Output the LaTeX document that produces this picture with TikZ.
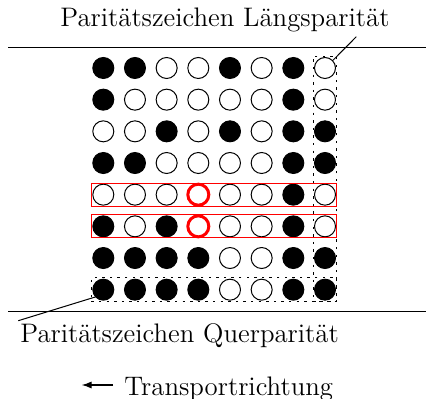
\documentclass[tikz,border=0pt]{standalone}
\usetikzlibrary{fit,arrows.meta,backgrounds}
\begin{document}
\begin{tikzpicture}[x=0.5pt,y=-0.5pt,
  bit/.style={circle,draw=black,line width=0.5pt,minimum size=10.5pt,inner sep=0pt},
  on/.style={bit,fill=black},
  off/.style={bit,fill=white},
  hit/.style={bit,draw=red,line width=1.5pt},
  redbox/.style={draw=red,line width=0.5pt,inner sep=0.3pt,rectangle},
  parbox/.style={draw=black,line width=0.55pt,dash pattern=on 1.2pt off 2.6pt,inner sep=0.45pt,rectangle},
  rule/.style={line width=0.6pt},
  pointer/.style={line width=0.5pt},
  lbl/.style={anchor=base west,inner sep=0pt,font=\fontsize{13.4}{15}\selectfont}]
\useasboundingbox (0,0) rectangle (426,399);
% bit pattern: 1 filled, 0 empty, 2 red
\foreach \r/\row in {1/{1,1,0,0,1,0,1,0},2/{1,0,0,0,0,0,1,0},3/{0,0,1,0,1,0,1,1},4/{1,1,0,0,0,0,1,1},5/{0,0,0,2,0,0,1,0},6/{1,0,1,2,0,0,1,0},7/{1,1,1,1,0,0,1,1},8/{1,1,1,1,0,0,1,1}}{
  \foreach \v [count=\c] in \row {
    \ifcase\v
      \node[off] (c-\r-\c) at ({103.3+31.67*(\c-1)},{68+31.67*(\r-1)}) {};
    \or
      \node[on] (c-\r-\c) at ({103.3+31.67*(\c-1)},{68+31.67*(\r-1)}) {};
    \or
      \node[hit] (c-\r-\c) at ({103.3+31.67*(\c-1)},{68+31.67*(\r-1)}) {};
    \fi
  }
}
% boxes
\node[redbox,fit=(c-5-1)(c-5-8)] (r5) {};
\node[redbox,fit=(c-6-1)(c-6-8)] (r6) {};
\begin{scope}[on background layer]
\node[parbox,fit=(c-1-8)(c-8-8)] (lp) {};
\node[parbox,fit=(c-8-1)(c-8-8)] (qp) {};
\end{scope}
% rules
\coordinate (tl) at (8,47.3);
\coordinate (tr) at (426,47.3);
\coordinate (bl) at (8,311.7);
\coordinate (br) at (426,311.7);
\draw[rule] (tl) -- (tr);
\draw[rule] (bl) -- (br);
% labels
\node[lbl] (laengs) at (60,27) {Paritätszeichen Längsparität};
\node[lbl] (quer) at (20,342) {Paritätszeichen Querparität};
\node[lbl] (transp) at (124,395) {Transportrichtung};
% pointers
\coordinate (pl) at (356.3,36.7);
\coordinate (pq) at (18.3,320.7);
\draw[pointer] (c-1-8.44) -- (pl);
\draw[pointer] (c-8-1.222) -- (pq);
% arrow
\coordinate (arr) at (81.7,385);
\draw[line width=0.6pt,-{Latex[length=5pt,width=3.6pt]}] ([xshift=-5.4pt,yshift=5pt]transp.base west) -- (arr);
\end{tikzpicture}
\end{document}
